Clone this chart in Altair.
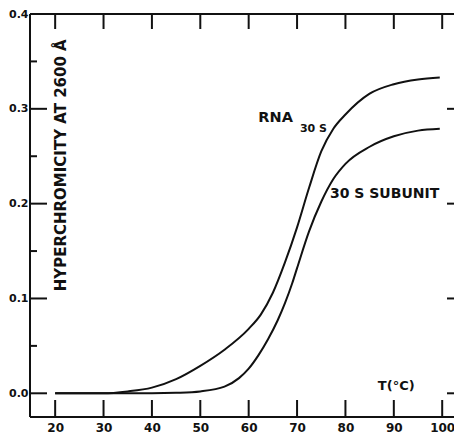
import altair as alt
import pandas as pd

# ---- data ----
rna_t = [20, 25, 30, 35, 40, 45, 50, 55, 60, 62.5, 65, 67.5, 70, 72.5, 75, 77.5, 80, 85, 90, 95, 99.5]
rna_h = [0.0, 0.0, 0.0, 0.002, 0.006, 0.015, 0.029, 0.046, 0.068, 0.083, 0.106, 0.138, 0.175, 0.217,
         0.255, 0.279, 0.294, 0.316, 0.326, 0.331, 0.333]

sub_t = [20, 30, 40, 45, 50, 55, 58, 60, 62, 64, 66, 67.5, 69, 70, 72.5, 75, 77.5, 80, 85, 90, 95, 99.5]
sub_h = [0.0, 0.0, 0.0, 0.0005, 0.002, 0.007, 0.016, 0.026, 0.040, 0.057, 0.077, 0.095, 0.116, 0.132,
         0.171, 0.202, 0.226, 0.242, 0.260, 0.271, 0.277, 0.279]

x_ticks = [20, 30, 40, 50, 60, 70, 80, 90, 100]
y_major = [0.0, 0.1, 0.2, 0.3, 0.4]
y_minor = [0.05, 0.15, 0.25, 0.35]

X_DOMAIN = [14.8, 104.3]
Y_DOMAIN = [-0.025, 0.4]

W, H = 433, 403
INK = "#111111"
FONT = "DejaVu Sans"

curves = pd.DataFrame(
    [{"T": t, "h": h, "s": "RNA 30S"} for t, h in zip(rna_t, rna_h)]
    + [{"T": t, "h": h, "s": "30S subunit"} for t, h in zip(sub_t, sub_h)]
)

xs = alt.Scale(domain=X_DOMAIN, nice=False, zero=False)
ys = alt.Scale(domain=Y_DOMAIN, nice=False, zero=False)

x_axis = alt.Axis(values=x_ticks, ticks=False, domain=False, grid=False, labelPadding=5,
                  labelFont=FONT, labelFontSize=12, labelFontWeight="bold", labelColor=INK, title=None)
y_axis = alt.Axis(values=y_major, format=".1f", ticks=False, domain=False, grid=False, labelPadding=2,
                  labelFont=FONT, labelFontSize=11, labelFontWeight="bold", labelColor=INK, title=None)

lines = alt.Chart(curves).mark_line(color=INK, strokeWidth=2, interpolate="monotone").encode(
    x=alt.X("T:Q", scale=xs, axis=x_axis),
    y=alt.Y("h:Q", scale=ys, axis=y_axis),
    detail="s:N",
)

ymaj = pd.DataFrame({"v": y_major})
ymin = pd.DataFrame({"v": y_minor})
xt = pd.DataFrame({"v": x_ticks})

rule = dict(color=INK, strokeWidth=2)
left_major = alt.Chart(ymaj).mark_rule(**rule).encode(y=alt.Y("v:Q", scale=ys), x=alt.value(0), x2=alt.value(17))
left_minor = alt.Chart(ymin).mark_rule(**rule).encode(y=alt.Y("v:Q", scale=ys), x=alt.value(0), x2=alt.value(7))
right_major = alt.Chart(ymaj).mark_rule(**rule).encode(y=alt.Y("v:Q", scale=ys), x=alt.value(W - 16), x2=alt.value(W))
right_minor = alt.Chart(ymin).mark_rule(**rule).encode(y=alt.Y("v:Q", scale=ys), x=alt.value(W - 6), x2=alt.value(W))
top_ticks = alt.Chart(xt).mark_rule(**rule).encode(x=alt.X("v:Q", scale=xs), y=alt.value(0), y2=alt.value(15))
bot_ticks = alt.Chart(xt).mark_rule(**rule).encode(x=alt.X("v:Q", scale=xs), y=alt.value(H - 17), y2=alt.value(H))

frame_df = pd.DataFrame({"k": [0]})
frame_left = alt.Chart(frame_df).mark_rule(**rule).encode(x=alt.value(0), y=alt.value(0), y2=alt.value(H))
frame_top = alt.Chart(frame_df).mark_rule(**rule).encode(y=alt.value(0), x=alt.value(0), x2=alt.value(W))
frame_bot = alt.Chart(frame_df).mark_rule(**rule).encode(y=alt.value(H), x=alt.value(0), x2=alt.value(W))

labels = pd.DataFrame([
    {"T": 62.0, "h": 0.290, "txt": "RNA", "size": 14.5},
    {"T": 70.6, "h": 0.279, "txt": "30 S", "size": 11},
    {"T": 76.8, "h": 0.210, "txt": "30 S  SUBUNIT", "size": 14},
])
text = alt.Chart(labels).mark_text(align="left", baseline="middle", font=FONT, fontWeight="bold", color=INK).encode(
    x=alt.X("T:Q", scale=xs), y=alt.Y("h:Q", scale=ys), text="txt:N",
    size=alt.Size("size:Q", scale=None, legend=None),
)

tlabel = alt.Chart(pd.DataFrame({"T": [90.5], "h": [0.008], "txt": ["T(°C)"]})).mark_text(
    align="center", baseline="middle", font=FONT, fontSize=13, fontWeight="bold", color=INK
).encode(x=alt.X("T:Q", scale=xs), y=alt.Y("h:Q", scale=ys), text="txt:N")

ytitle = alt.Chart(pd.DataFrame({"T": [21.3], "h": [0.2405], "txt": ["HYPERCHROMICITY AT 2600 Å"]})).mark_text(
    align="center", baseline="middle", angle=270, font=FONT, fontSize=15, fontWeight="bold", color=INK
).encode(x=alt.X("T:Q", scale=xs), y=alt.Y("h:Q", scale=ys), text="txt:N")

chart = alt.layer(
    lines, left_major, left_minor, right_major, right_minor, top_ticks, bot_ticks,
    frame_left, frame_top, frame_bot, text, tlabel, ytitle,
).properties(
    width=W, height=H,
    autosize=alt.AutoSizeParams(type="none"),
    padding={"left": 22, "top": 6, "right": -9, "bottom": 16},
    background="white",
).configure_view(stroke=None)

chart.save("out.html", embed_options={"renderer": "svg", "actions": False})
